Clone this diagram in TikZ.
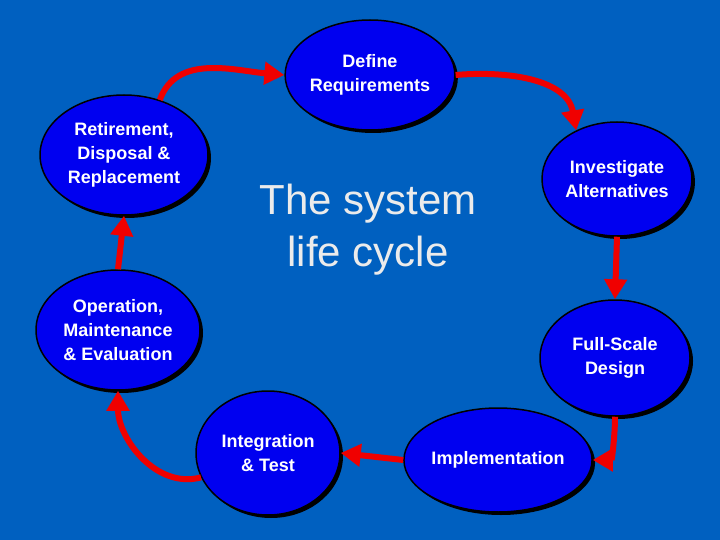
\documentclass[tikz,border=0pt]{standalone}
\usepackage{fontspec}
\setmainfont{Liberation Sans}
\usetikzlibrary{shadows,arrows.meta,shapes.geometric}
\definecolor{bg}{HTML}{0060C0}
\definecolor{ell}{HTML}{0000F0}
\definecolor{arr}{HTML}{F00000}
\tikzset{
  phase/.style={ellipse,draw=black,line width=1.5pt,fill=ell,inner sep=0pt,
    drop shadow={shadow xshift=3pt,shadow yshift=-3pt,fill=black,opacity=1},
    font=\bfseries\fontsize{18}{24}\selectfont,text=white,align=center},
  flow/.style={draw=arr,line width=6pt,-{Triangle[length=20pt,width=22pt]}}
}
\begin{document}
\begin{tikzpicture}[x=1pt,y=-1pt]
\fill[bg] (0,0) rectangle (720,540);
\node[phase,minimum width=150,minimum height=110] (def) at (370,75) {Define\\Requirements};
\node[phase,minimum width=168,minimum height=120] (ret) at (124,155) {Retirement,\\Disposal \&\\Replacement};
\node[phase,minimum width=150,minimum height=114] (inv) at (617,179) {Investigate\\Alternatives};
\node[phase,minimum width=164,minimum height=120] (op) at (118,330) {Operation,\\Maintenance\\\& Evaluation};
\node[phase,minimum width=150,minimum height=116] (fsd) at (615,358) {Full-Scale\\Design};
\node[phase,minimum width=144,minimum height=124] (int) at (268,453) {Integration\\\& Test};
\node[phase,minimum width=176,minimum height=104] (imp) at (498,460) {Implementation};
\node[text=white!92!black,font=\fontsize{42}{52}\selectfont,align=center] (title) at (368,230) {The system\\life cycle};
\draw[flow] (ret.57) to[out=70,in=175] (def.west);
\draw[flow] (def.east) to[out=5,in=100] (inv.130);
\draw[flow] (inv.south) -- (fsd.north);
\draw[flow] (fsd.south) to[out=-90,in=0] (imp.east);
\draw[flow] (imp.west) -- (int.east);
\draw[flow] (int.200) to[out=195,in=-90] (op.south);
\draw[flow] (op.north) -- (ret.south);
\end{tikzpicture}
\end{document}
